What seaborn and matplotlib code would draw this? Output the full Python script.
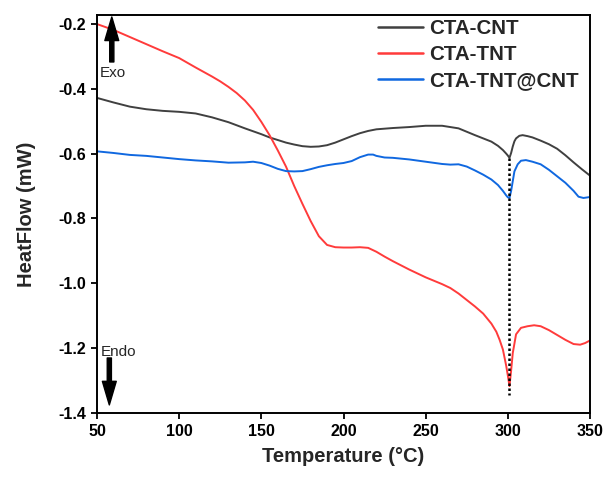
import matplotlib
matplotlib.use("Agg")
import matplotlib.pyplot as plt
import seaborn as sns
import pandas as pd

# ---- data -------------------------------------------------------------
cnt_T = [50, 60, 70, 80, 90, 100, 110, 120, 130, 140, 150, 155, 160, 165, 170,
         175, 180, 185, 190, 195, 200, 205, 210, 215, 220, 230, 240, 250, 260,
         270, 280, 285, 290, 294, 297, 299, 300, 301, 302, 303, 304, 305, 307,
         309, 312, 315, 320, 325, 330, 335, 340, 345, 350]
cnt_Y = [-0.428, -0.442, -0.455, -0.463, -0.468, -0.471, -0.476, -0.488, -0.503,
         -0.522, -0.540, -0.550, -0.558, -0.566, -0.572, -0.577, -0.579, -0.578,
         -0.574, -0.566, -0.556, -0.546, -0.537, -0.530, -0.525, -0.521, -0.518,
         -0.514, -0.514, -0.522, -0.543, -0.553, -0.563, -0.576, -0.589, -0.600,
         -0.606, -0.613, -0.598, -0.578, -0.562, -0.553, -0.545, -0.543, -0.546,
         -0.550, -0.560, -0.571, -0.585, -0.605, -0.627, -0.648, -0.668]

tnt_T = [50, 60, 70, 80, 90, 100, 110, 120, 125, 130, 135, 140, 145, 150, 155, 160,
         165, 170, 175, 180, 185, 190, 195, 200, 205, 210, 215, 220, 225, 230,
         240, 250, 260, 265, 270, 275, 280, 285, 290, 293, 295, 297, 299, 300,
         301, 302, 303, 305, 308, 312, 316, 320, 325, 330, 335, 340, 344, 347, 350]
tnt_Y = [-0.200, -0.218, -0.240, -0.262, -0.284, -0.305, -0.334, -0.362, -0.377,
         -0.394, -0.413, -0.436, -0.465, -0.502, -0.543, -0.590, -0.640, -0.700,
         -0.755, -0.808, -0.855, -0.882, -0.889, -0.890, -0.890, -0.889, -0.891,
         -0.903, -0.918, -0.932, -0.958, -0.982, -1.003, -1.015, -1.032, -1.052,
         -1.072, -1.094, -1.125, -1.150, -1.175, -1.205, -1.255, -1.285, -1.318,
         -1.270, -1.216, -1.158, -1.138, -1.133, -1.130, -1.133, -1.145, -1.160,
         -1.175, -1.188, -1.190, -1.185, -1.177]

tntcnt_T = [50, 60, 70, 80, 90, 100, 110, 120, 130, 140, 145, 150, 155, 160, 165,
            170, 175, 180, 185, 190, 195, 200, 205, 210, 215, 218, 220, 225, 230,
            240, 250, 260, 265, 270, 275, 280, 285, 290, 294, 297, 299, 300, 301,
            302, 303, 304, 306, 308, 311, 315, 320, 325, 330, 335, 340, 343, 346, 350]
tntcnt_Y = [-0.593, -0.598, -0.604, -0.607, -0.612, -0.617, -0.621, -0.624, -0.628,
            -0.627, -0.625, -0.629, -0.637, -0.647, -0.654, -0.655, -0.654, -0.648,
            -0.641, -0.636, -0.632, -0.629, -0.623, -0.611, -0.603, -0.603, -0.607,
            -0.612, -0.613, -0.618, -0.625, -0.632, -0.634, -0.633, -0.640, -0.652,
            -0.665, -0.680, -0.697, -0.715, -0.729, -0.735, -0.737, -0.715, -0.685,
            -0.655, -0.633, -0.622, -0.620, -0.625, -0.633, -0.650, -0.670, -0.690,
            -0.715, -0.733, -0.737, -0.734]

labels = ["CTA-CNT", "CTA-TNT", "CTA-TNT@CNT"]
colors = ["#404040", "#ff3b3b", "#1068e0"]

peak_T = 301
peak_top = -0.613
peak_bottom = -1.345

x_ticks = [50, 100, 150, 200, 250, 300, 350]
y_ticks = [-1.4, -1.2, -1.0, -0.8, -0.6, -0.4, -0.2]

# ---- style ------------------------------------------------------------
sns.set_style("ticks")
plt.rcParams["font.family"] = ["Liberation Sans", "DejaVu Sans"]

fig = plt.figure(figsize=(6.03, 4.78), dpi=100)
ax = fig.add_axes([97 / 603, 1 - 412.7 / 478, (590 - 97) / 603, (412.7 - 15) / 478])

series = [(cnt_T, cnt_Y), (tnt_T, tnt_Y), (tntcnt_T, tntcnt_Y)]
for (t, y), lab, col in zip(series, labels, colors):
    df = pd.DataFrame({"T": t, "HF": y})
    sns.lineplot(data=df, x="T", y="HF", ax=ax, color=col, label=lab,
                 linewidth=1.4, estimator=None, sort=False)

ax.plot([peak_T, peak_T], [peak_top, peak_bottom], color="black",
        linestyle=(0, (1, 1)), linewidth=1.8, zorder=3)

ax.set_xlim(50, 350)
ax.set_ylim(-1.4, -0.172)
ax.set_xticks(x_ticks)
ax.set_yticks(y_ticks)
ax.set_xticklabels([str(v) for v in x_ticks])
ax.set_yticklabels([f"{v:.1f}" for v in y_ticks])

for lbl in ax.get_xticklabels() + ax.get_yticklabels():
    lbl.set_fontweight("bold")
    lbl.set_fontsize(11.5)
ax.tick_params(direction="out", length=4, width=1.3, colors="black", pad=4)
for sp in ax.spines.values():
    sp.set_visible(True)
    sp.set_linewidth(1.4)
    sp.set_color("black")

ax.set_xlabel("Temperature (°C)", fontsize=14.5, fontweight="bold", labelpad=6)
ax.set_ylabel("HeatFlow (mW)", fontsize=14.5, fontweight="bold", labelpad=16)

# Exo / Endo arrows
ax.annotate("", xy=(59, -0.178), xytext=(59, -0.317),
            arrowprops=dict(facecolor="black", edgecolor="black", width=3,
                            headwidth=10, headlength=17))
ax.text(51.6, -0.350, "Exo", fontsize=11, ha="left", va="center")
ax.annotate("", xy=(57.5, -1.376), xytext=(57.5, -1.231),
            arrowprops=dict(facecolor="black", edgecolor="black", width=3,
                            headwidth=10, headlength=17))
ax.text(52.3, -1.213, "Endo", fontsize=11, ha="left", va="center")

leg = ax.legend(loc="upper left", bbox_to_anchor=(378 / 603, 1 - 19 / 478),
                bbox_transform=fig.transFigure, frameon=False,
                prop=dict(weight="bold", size=14.8), handlelength=2.2,
                handletextpad=0.3, labelspacing=0.35, borderpad=0,
                borderaxespad=0)
for h in leg.get_lines():
    h.set_linewidth(1.8)

fig.savefig("out.png", dpi=100)
